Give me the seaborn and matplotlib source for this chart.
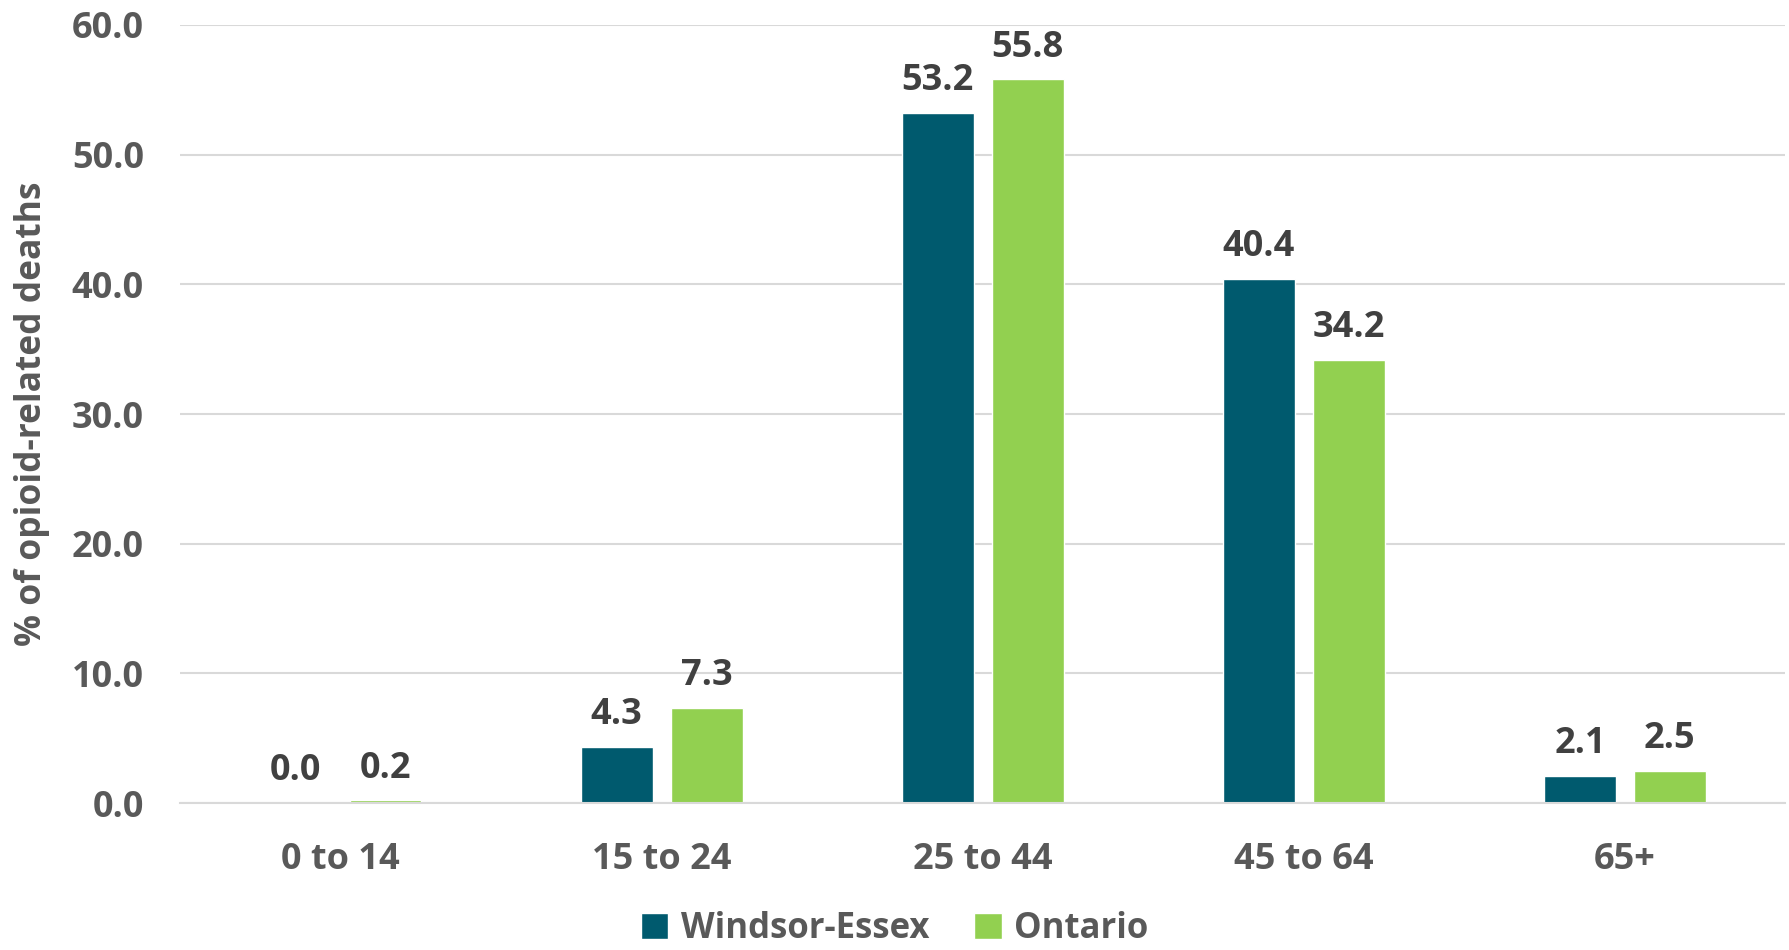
import matplotlib
matplotlib.use("Agg")
import matplotlib.pyplot as plt
import seaborn as sns
import pandas as pd
from matplotlib.patches import Patch

categories = ["0 to 14", "15 to 24", "25 to 44", "45 to 64", "65+"]
windsor = [0.0, 4.3, 53.2, 40.4, 2.1]
ontario = [0.2, 7.3, 55.8, 34.2, 2.5]
series = ["Windsor-Essex", "Ontario"]
yticks = [0, 10, 20, 30, 40, 50, 60]

colors = {"Windsor-Essex": "#005A6E", "Ontario": "#92D050"}

df = pd.DataFrame({
    "Age": categories * 2,
    "Series": ["Windsor-Essex"] * len(categories) + ["Ontario"] * len(categories),
    "Value": windsor + ontario,
})

sns.set_theme(style="white")
plt.rcParams["font.family"] = ["Open Sans", "DejaVu Sans"]
plt.rcParams["font.weight"] = "bold"

fig = plt.figure(figsize=(17.89, 9.5), dpi=100)
ax = fig.add_axes([0.1006, 0.1547, 0.8974, 0.819])

sns.barplot(data=df, x="Age", y="Value", hue="Series", order=categories,
            hue_order=series, palette=colors, width=0.56, gap=0.2,
            legend=False, ax=ax, saturation=1)

ax.set_xlim(-0.5, 4.5)
ax.set_ylim(0, 60)
ax.set_yticks(yticks)
ax.set_yticklabels([f"{v:.1f}" for v in yticks], fontsize=26, color="#595959", fontweight="bold")
ax.tick_params(axis="y", length=0, pad=26)
ax.tick_params(axis="x", length=0, pad=28, labelsize=26, labelcolor="#595959")
for lbl in ax.get_xticklabels():
    lbl.set_fontweight("bold")
ax.yaxis.grid(True, color="#D9D9D9", linewidth=1.5)
ax.set_axisbelow(True)
for s in ["top", "right", "left"]:
    ax.spines[s].set_visible(False)
ax.spines["bottom"].set_color("#D9D9D9")
ax.spines["bottom"].set_linewidth(1.5)
ax.set_xlabel("")
ax.set_ylabel("% of opioid-related deaths", fontsize=25.5, color="#595959", fontweight="bold", labelpad=16)

for cont in ax.containers:
    ax.bar_label(cont, fmt="%.1f", padding=10, fontsize=26, color="#404040", fontweight="bold")

handles = [Patch(facecolor=colors[s], label=s) for s in series]
fig.legend(handles=handles, loc="center", bbox_to_anchor=(0.5, 0.022), ncol=2, frameon=False,
           prop={"size": 25, "weight": "bold"}, labelcolor="#595959",
           handlelength=0.8, handleheight=0.8, handletextpad=0.35, columnspacing=1.3,
           borderpad=0.1)

fig.savefig("out.png", dpi=100)
